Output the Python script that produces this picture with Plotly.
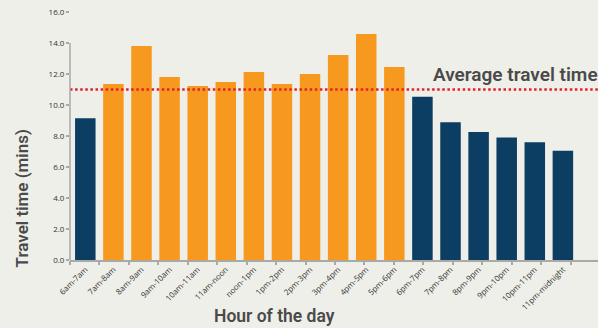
import plotly.graph_objects as go

# Hourly travel time data
hours = ["6am-7am", "7am-8am", "8am-9am", "9am-10am", "10am-11am", "11am-noon",
         "noon-1pm", "1pm-2pm", "2pm-3pm", "3pm-4pm", "4pm-5pm", "5pm-6pm",
         "6pm-7pm", "7pm-8pm", "8pm-9pm", "9pm-10pm", "10pm-11pm", "11pm-midnight"]
travel_time = [9.15, 11.35, 13.8, 11.8, 11.23, 11.48,
               12.13, 11.35, 12.0, 13.23, 14.58, 12.45,
               10.54, 8.88, 8.26, 7.91, 7.59, 7.05]
average_time = 11.0
y_ticks = [0, 2, 4, 6, 8, 10, 12, 14, 16]

ORANGE = "#F8991F"
NAVY = "#0C3D63"
BG = "#EFEFE9"
AXIS = "#A9A9A6"
TITLE_FONT = "Roboto, sans-serif"
TITLE_COLOR = "#4a4a4a"

colors = [ORANGE if t > average_time else NAVY for t in travel_time]

fig = go.Figure()
fig.add_trace(go.Bar(x=hours, y=travel_time, marker=dict(color=colors, line=dict(width=0)),
                     showlegend=False))
# helper trace so the tick-only overlay axis is rendered
fig.add_trace(go.Scatter(x=[None], y=[None], xaxis="x2", showlegend=False, hoverinfo="skip"))

# average line
fig.add_shape(type="line", xref="paper", x0=0, x1=1, yref="y", y0=average_time, y1=average_time,
              line=dict(color="#E4202B", width=2.5, dash="2.5px,2.6px"), layer="above")
# y axis line (stops at 14)
fig.add_shape(type="line", xref="paper", x0=0, x1=0, yref="y", y0=0, y1=14,
              line=dict(color=AXIS, width=1.5))

fig.add_annotation(text="Average travel time", xref="paper", yref="y",
                   x=1.003, y=average_time + 0.08, xanchor="right", yanchor="bottom",
                   showarrow=False,
                   font=dict(family=TITLE_FONT, size=19, color=TITLE_COLOR, weight=600))
fig.add_annotation(text="Travel time (mins)", xref="paper", yref="paper",
                   x=-0.09, y=0.25, xanchor="center", yanchor="middle", textangle=-90,
                   showarrow=False,
                   font=dict(family=TITLE_FONT, size=17, color=TITLE_COLOR, weight=600))
fig.add_annotation(text="Hour of the day", xref="paper", yref="paper",
                   x=0.387, y=-0.225, xanchor="center", yanchor="middle",
                   showarrow=False,
                   font=dict(family=TITLE_FONT, size=17.5, color=TITLE_COLOR, weight=600))

fig.update_layout(
    width=598, height=328,
    margin=dict(l=70, r=0, t=12, b=68),
    paper_bgcolor=BG, plot_bgcolor=BG,
    bargap=0.27,
    xaxis=dict(type="category", range=[-0.545, 18.25], showgrid=False, zeroline=False,
               showline=True, linecolor=AXIS, linewidth=1.5, ticks="",
               tickangle=-45, tickfont=dict(family="Open Sans, sans-serif", size=8, color="#333333")),
    xaxis2=dict(overlaying="x", anchor="y", range=[0, 17.93], tickvals=list(range(18)),
                showticklabels=False, ticks="outside", ticklen=4, tickcolor=AXIS, tickwidth=1.5,
                showgrid=False, zeroline=False, showline=False, side="bottom"),
    yaxis=dict(range=[0, 16], tickvals=y_ticks, ticktext=[f"{v:.1f}" for v in y_ticks],
               showgrid=False, zeroline=False, showline=False, ticks="outside", ticklen=3,
               tickcolor=AXIS, tickwidth=1.5,
               tickfont=dict(family="Open Sans, sans-serif", size=8, color="#333333")),
)

fig.write_html("out.html")
